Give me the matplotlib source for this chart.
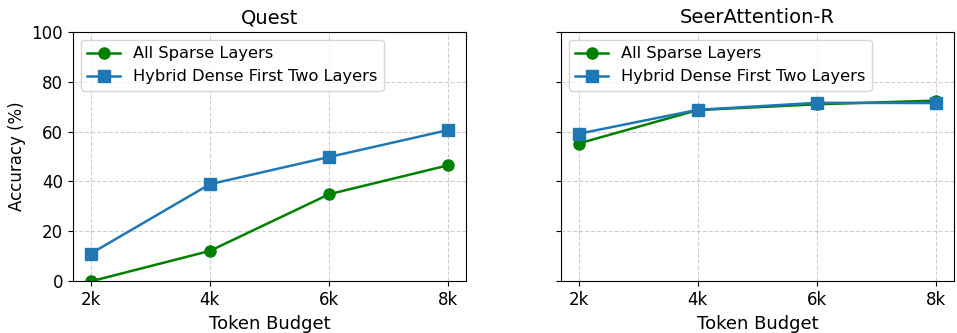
import matplotlib
matplotlib.use("Agg")
import matplotlib.pyplot as plt

budgets = ["2k", "4k", "6k", "8k"]
methods = ["Quest", "SeerAttention-R"]

# accuracy (%) per token budget
sparse_acc = {
    "Quest": [0.0, 12.2, 34.9, 46.5],
    "SeerAttention-R": [55.2, 68.6, 70.9, 72.4],
}
hybrid_acc = {
    "Quest": [11.1, 38.9, 49.8, 60.6],
    "SeerAttention-R": [59.1, 68.7, 71.5, 71.4],
}

fig, axes = plt.subplots(1, 2, figsize=(9.57, 3.33), dpi=100, sharey=True)
fig.subplots_adjust(left=0.076, right=0.997, top=0.905, bottom=0.155, wspace=0.24)

x = range(len(budgets))
for ax, name in zip(axes, methods):
    ax.plot(x, sparse_acc[name], color="green", marker="o", markersize=8,
            linewidth=1.8, label="All Sparse Layers")
    ax.plot(x, hybrid_acc[name], color="#1f77b4", marker="s", markersize=8,
            linewidth=1.8, label="Hybrid Dense First Two Layers")
    ax.set_title(name, fontsize=14)
    ax.set_xticks(list(x))
    ax.set_xticklabels(budgets, fontsize=12)
    ax.set_xlabel("Token Budget", fontsize=13)
    ax.set_ylim(0, 100)
    ax.tick_params(axis="y", labelsize=12)
    ax.grid(True, linestyle="--", alpha=0.6)
    ax.legend(loc="upper left", fontsize=11.7)

axes[0].set_ylabel("Accuracy (%)", fontsize=12)

fig.savefig("out.png")
